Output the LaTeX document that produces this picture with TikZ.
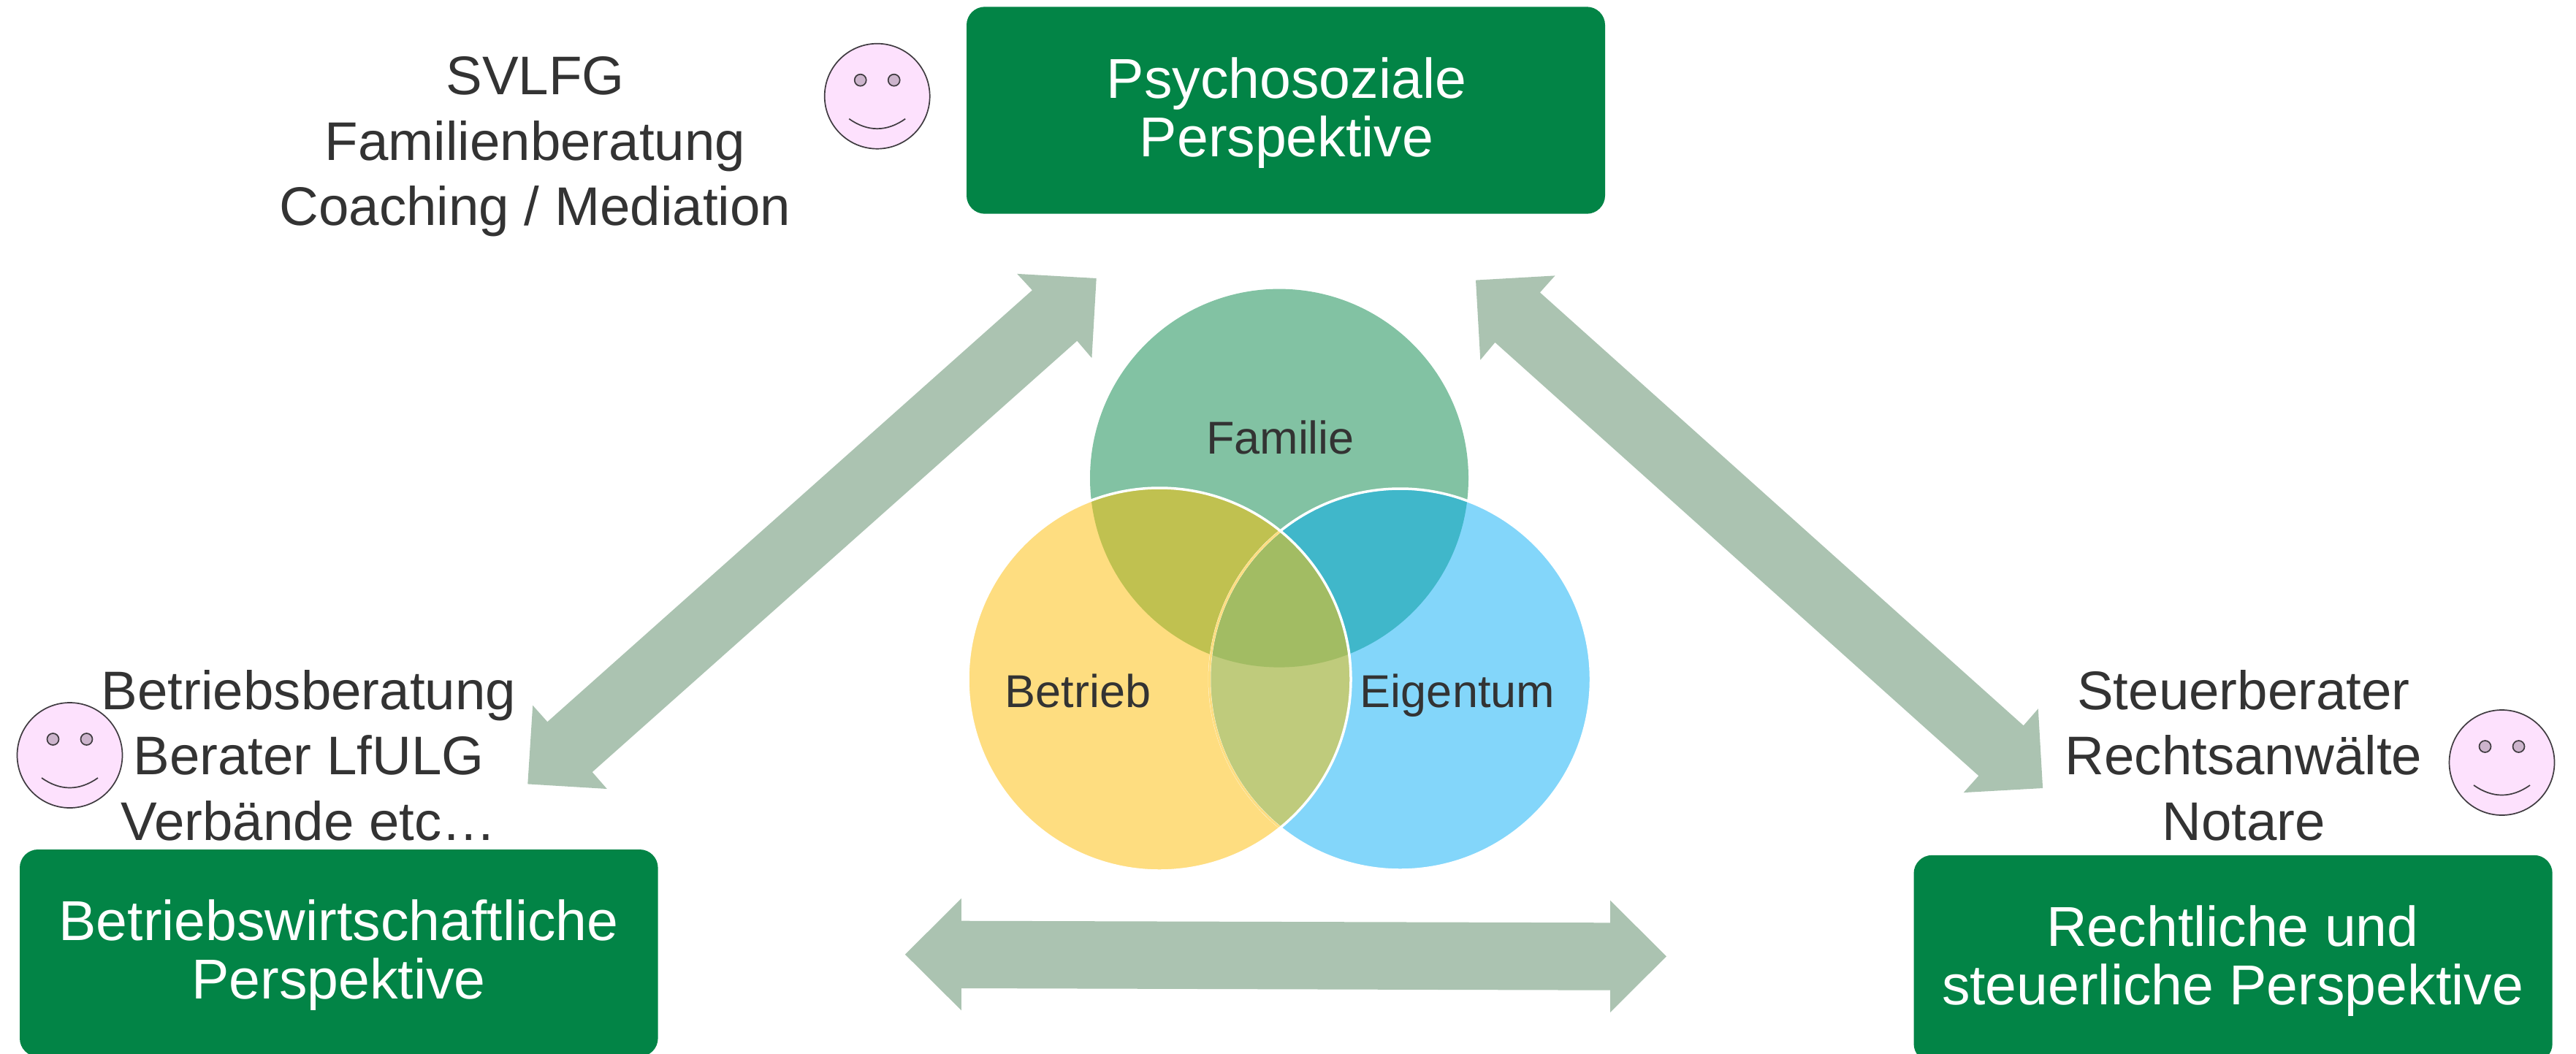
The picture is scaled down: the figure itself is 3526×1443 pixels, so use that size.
\documentclass[tikz,border=0pt]{standalone}
\usepackage{fontspec}
\setmainfont{Liberation Sans}
\definecolor{boxgreen}{HTML}{028446}
\definecolor{arrowgreen}{HTML}{ABC3B1}
\definecolor{inktext}{HTML}{333333}
\definecolor{famcol}{HTML}{82C2A3}
\definecolor{betcol}{HTML}{FEDD80}
\definecolor{eigcol}{HTML}{83D6FA}
\definecolor{fbcol}{HTML}{C0C150}
\definecolor{fecol}{HTML}{40B7CA}
\definecolor{becol}{HTML}{BFCB7C}
\definecolor{fbecol}{HTML}{A2BC63}
\definecolor{facecol}{HTML}{FDE1FD}
\definecolor{eyecol}{HTML}{CCB4CC}
\definecolor{facelin}{HTML}{3F3B40}
\tikzset{
  x=1pt,y=-1pt,
  greenbox/.style={fill=boxgreen,draw=none,rounded corners=25pt},
  boxtext/.style={text=white,align=center,inner sep=0pt,anchor=base,font=\fontsize{77}{80}\selectfont},
  listtext/.style={text=inktext,align=center,inner sep=0pt,anchor=base,font=\fontsize{74.5}{89.5}\selectfont},
  venntext/.style={text=inktext,inner sep=0pt,anchor=base,font=\fontsize{63}{70}\selectfont},
  bigarrow/.style={fill=arrowgreen,draw=none},
  smiley/.pic={
    \draw[fill=facecol,draw=facelin,line width=1.7pt] (0,0) circle[radius=72pt];
    \draw[fill=eyecol,draw=facelin,line width=1.7pt] (-23,-22) circle[radius=8pt];
    \draw[fill=eyecol,draw=facelin,line width=1.7pt] (23,-22) circle[radius=8pt];
    \draw[draw=facelin,line width=1.7pt] (-38.5,31) .. controls (-13,49) and (13,49) .. (38.5,31);
  }
}
\begin{document}
\begin{tikzpicture}
\useasboundingbox (0,0) rectangle (3526,1443);

% arrows
\fill[bigarrow] (1500.7,381) -- (1392.2,374.9) -- (1412.9,397.3) -- (749.3,988.2) -- (729.2,965.7) -- (722.3,1073.4) -- (830.8,1080) -- (810.7,1057) -- (1474.3,466.7) -- (1494.4,490.2) -- cycle;
\fill[bigarrow] (2020,383.6) -- (2128.5,377.4) -- (2107.9,400.4) -- (2769.7,993.3) -- (2789.8,970.3) -- (2796.1,1079) -- (2687.7,1085.1) -- (2708.3,1062.1) -- (2046.4,468.8) -- (2026.3,492.8) -- cycle;
\fill[bigarrow] (1238.9,1306.7) -- (1315.9,1230) -- (1315.9,1260.7) -- (2204,1263.3) -- (2204,1232.7) -- (2281,1309.3) -- (2204,1386) -- (2204,1355.7) -- (1315.9,1353) -- (1315.9,1383.3) -- cycle;

% boxes
\fill[greenbox] (1323,9.3) rectangle (2197,292.7);
\fill[greenbox] (27,1163) rectangle (900.6,1446.5);
\fill[greenbox] (2619.5,1170.8) rectangle (3493.7,1454);

% venn
\def\fam{(1751,654.6) circle[radius=259pt]}
\def\bet{(1587,930) circle[radius=262pt]}
\def\eig{(1916.5,930) circle[radius=261pt]}
\fill[famcol] \fam;
\fill[betcol] \bet;
\fill[eigcol] \eig;
\begin{scope}
  \clip \fam;
  \fill[fbcol] \bet;
  \fill[fecol] \eig;
  \begin{scope}
    \clip \bet;
    \fill[fbecol] \eig;
  \end{scope}
\end{scope}
\begin{scope}
  \clip \bet;
  \fill[becol] \eig;
  \clip \fam;
  \fill[fbecol] \eig;
\end{scope}
\draw[white,line width=3.5pt] \eig;
\begin{scope}
  \clip \bet;
  \draw[betcol,line width=3pt] \eig;
\end{scope}
\draw[white,line width=3.5pt] \bet;

\node[venntext] (familie) at (1752.5,621.5) {Familie};
\node[venntext] (betrieb) at (1475.5,968) {Betrieb};
\node[venntext] (eigentum) at (1995,968) {Eigentum};

% smileys
\pic at (1200.7,131.7) {smiley};
\pic at (95.5,1034) {smiley};
\pic at (3424.5,1044) {smiley};

% texts
\node[listtext] (toplist) at (732.5,308.5) {SVLFG\\Familienberatung\\Coaching / Mediation};
\node[listtext] (leftlist) at (422.5,1150) {Betriebsberatung\\Berater LfULG\\Verbände etc…};
\node[listtext] (rightlist) at (3071,1150) {Steuerberater\\Rechtsanwälte\\Notare};

\node[boxtext] (psycho) at (1761,214) {Psychosoziale\\Perspektive};
\node[boxtext] (bwl) at (463.5,1367.6) {Betriebswirtschaftliche\\Perspektive};
\node[boxtext] (recht) at (3056,1375.5) {Rechtliche und\\steuerliche Perspektive};
\end{tikzpicture}
\end{document}
